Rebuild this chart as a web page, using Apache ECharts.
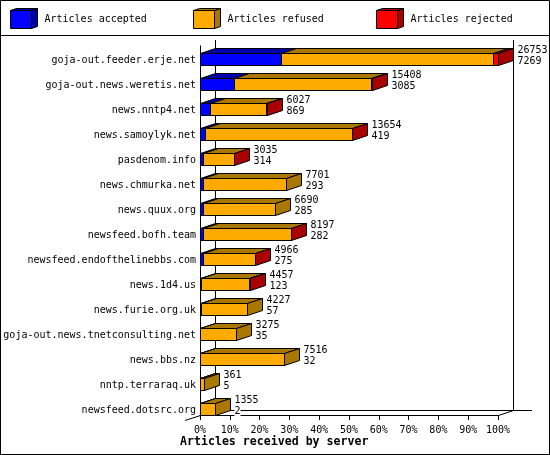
<!DOCTYPE html>
<html><head><meta charset="utf-8">
<style>html,body{margin:0;padding:0;background:#fff}#c{width:550px;height:455px}</style>
<script src="https://cdn.jsdelivr.net/npm/echarts@6/dist/echarts.min.js"></script>
</head><body><div id="c"></div>
<script>
const categories = ["goja-out.feeder.erje.net","goja-out.news.weretis.net","news.nntp4.net","news.samoylyk.net","pasdenom.info","news.chmurka.net","news.quux.org","newsfeed.bofh.team","newsfeed.endofthelinebbs.com","news.1d4.us","news.furie.org.uk","goja-out.news.tnetconsulting.net","news.bbs.nz","nntp.terraraq.uk","newsfeed.dotsrc.org"];
const totals = [26753,15408,6027,13654,3035,7701,6690,8197,4966,4457,4227,3275,7516,361,1355];
const accepted = [7269,3085,869,419,314,293,285,282,275,123,57,35,32,5,2];
const rejected = [450,60,70,30,12,0,0,25,15,30,0,0,0,0,0];
const tickLabels = ["0%","10%","20%","30%","40%","50%","60%","70%","80%","90%","100%"];
const legendNames = ["Articles accepted","Articles refused","Articles rejected"];
const FRONT = ["#0000ff","#ffaa00","#ff0000"];
const DARK = ["#0000aa","#aa7700","#aa0000"];
const MONO = '"DejaVu Sans Mono","Liberation Mono",monospace';
const DX = 15, DY = -5, BAR_H = 12;
const maxTotal = Math.max(...totals);
const pct = v => v / maxTotal * 100;
const px = v => Math.round(v) + 0.5;
const line = {stroke:'#000',lineWidth:1};

function seg(api, fill, dark, withSide, sideFill) {
  const i = api.value(0), a = api.value(1), b = api.value(2);
  const bandY = api.coord([0, i])[1];
  const band = api.size([0, 1])[1];
  const yb = px(bandY + band / 2), yt = yb - BAR_H;
  const x0 = px(api.coord([a, i])[0]), x1 = px(api.coord([b, i])[0]);
  const kids = [];
  if (x1 > x0 || !withSide) {
    kids.push({type:'polygon',shape:{points:[[x0,yt],[x1,yt],[x1+DX,yt+DY],[x0+DX,yt+DY]]},style:{fill:dark,...line}});
    kids.push({type:'rect',shape:{x:x0,y:yt,width:x1-x0,height:BAR_H},style:{fill:fill,...line}});
  }
  if (withSide) {
    kids.push({type:'polygon',shape:{points:[[x1,yt],[x1+DX,yt+DY],[x1+DX,yb+DY],[x1,yb]]},style:{fill:sideFill,...line}});
    const font = '10px '+MONO;
    kids.push({type:'text',x:x1+DX+4,y:yb-20,style:{text:String(api.value(3)),font:font,fill:'#000'}});
    kids.push({type:'text',x:x1+DX+4,y:yb-9,style:{text:String(api.value(4)),font:font,fill:'#000',backgroundColor:'#fff'}});
  }
  return {type:'group',children:kids};
}

const acceptedData = categories.map((c,i)=>[i,0,pct(accepted[i])]);
const refusedData = categories.map((c,i)=>[i,pct(accepted[i]),pct(totals[i]-rejected[i])]);
const rejectedData = categories.map((c,i)=>[i,pct(totals[i]-rejected[i]),pct(totals[i]),totals[i],accepted[i],rejected[i]]);

function legendOf(i,left){
  return {data:[legendNames[i]],left:left,top:10,padding:0,icon:'rect',itemWidth:21,itemHeight:18,itemGap:13,selectedMode:false,
    textStyle:{fontFamily:MONO,fontSize:10,color:'#000',padding:[0,0,0,8]},itemStyle:{borderColor:'#000',borderWidth:1}};
}
function legendSide(x,i){
  return [
    {type:'polygon',shape:{points:[[x+21.5,10.5],[x+27.5,8.5],[x+27.5,26.5],[x+21.5,28.5]]},style:{fill:DARK[i],...line},z:50},
    {type:'polygon',shape:{points:[[x+.5,10.5],[x+6.5,8.5],[x+27.5,8.5],[x+21.5,10.5]]},style:{fill:DARK[i],...line},z:50}
  ];
}
const L = 200.5, R = 498.5, B = 415.5, T = 45.5;
const BK = (x1,y1,x2,y2,z)=>({type:'line',shape:{x1,y1,x2,y2},style:{...line},z:z||0});

const chart = echarts.init(document.getElementById('c'),null,{renderer:'canvas'});
chart.setOption({
  animation:false,
  backgroundColor:'#fff',
  grid:{left:200,right:52,top:40,height:375},
  legend:[legendOf(0,10),legendOf(1,193),legendOf(2,376)],
  xAxis:{type:'value',min:0,max:100,interval:10,
    axisLine:{show:true,lineStyle:{color:'#000',width:1}},
    axisTick:{show:true,length:5,lineStyle:{color:'#000'}},
    splitLine:{show:false},
    axisLabel:{formatter:v=>tickLabels[v/10],color:'#000',fontFamily:MONO,fontSize:10,margin:10,hideOverlap:false,showMinLabel:true,showMaxLabel:true,alignMinLabel:'center',alignMaxLabel:'center'},
    name:'Articles received by server',nameLocation:'start',
    nameGap:0,
    nameTextStyle:{fontFamily:MONO,fontSize:11.6,fontWeight:'bold',color:'#000',align:'left',verticalAlign:'top',padding:[21,0,0,-20]}
  },
  yAxis:{type:'category',data:categories,inverse:true,
    axisLine:{show:false},axisTick:{show:false},
    axisLabel:{color:'#000',fontFamily:MONO,fontSize:10,margin:4,verticalAlign:'top',lineHeight:15}
  },
  graphic:[
    {type:'rect',shape:{x:.5,y:.5,width:549,height:454},style:{fill:'none',...line},z:60},
    BK(0,35.5,550,35.5,60),
    BK(L+15,40,L+15,410.5), BK(R+15,40,R+15,410.5),
    BK(L+15,410.5,532,410.5),
    BK(185,420.5,L,B), BK(R,B,R+15,410.5),
    BK(L,T,L,420,40),
    ...legendSide(10,0),...legendSide(193,1),...legendSide(376,2)
  ],
  series:[
    {name:legendNames[0],type:'custom',coordinateSystem:'cartesian2d',itemStyle:{color:FRONT[0]},encode:{x:[1,2],y:0},data:acceptedData,silent:true,
      renderItem:(p,api)=>seg(api,FRONT[0],DARK[0],false)},
    {name:legendNames[1],type:'custom',coordinateSystem:'cartesian2d',itemStyle:{color:FRONT[1]},encode:{x:[1,2],y:0},data:refusedData,silent:true,
      renderItem:(p,api)=>seg(api,FRONT[1],DARK[1],false)},
    {name:legendNames[2],type:'custom',coordinateSystem:'cartesian2d',itemStyle:{color:FRONT[2]},encode:{x:[1,2],y:0},data:rejectedData,silent:true,
      renderItem:(p,api)=>seg(api,FRONT[2],DARK[2],true,api.value(5)>0?DARK[2]:DARK[1])}
  ]
});
</script></body></html>
